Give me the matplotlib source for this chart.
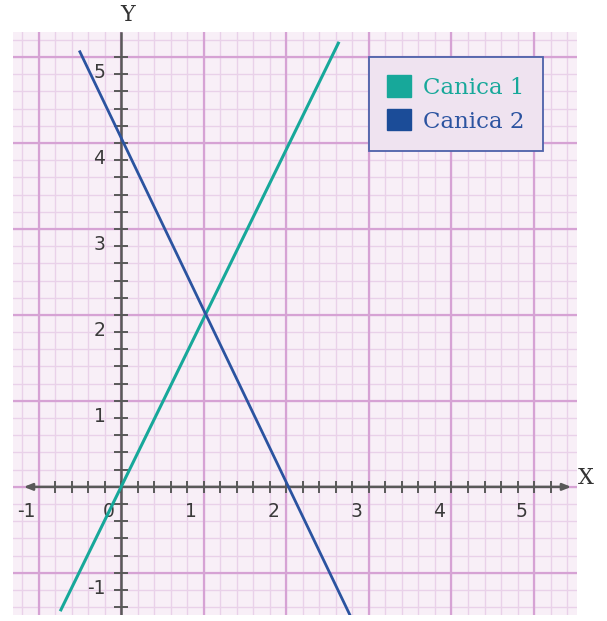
import numpy as np
import matplotlib
matplotlib.use("Agg")
import matplotlib.pyplot as plt
from matplotlib.patches import Patch

# datos
canica1_x = [-0.73, 2.63]
canica1_y = [-1.43, 5.16]
canica2_x = [-0.50, 2.77]
canica2_y = [5.06, -1.49]
series = ["Canica 1", "Canica 2"]
x_labels = [-1, 0, 1, 2, 3, 4, 5]
y_labels = [-1, 1, 2, 3, 4, 5]

C1 = "#17a89a"
C2 = "#2b53a0"
BG = "#f8eff7"
MAJOR = "#d6a2d4"
MINOR = "#e9d1e9"
AXIS = "#595959"

fig = plt.figure(figsize=(6.07, 6.21), dpi=100)
ax = fig.add_axes([13 / 607, 6 / 621, 564 / 607, 583 / 621])
ax.set_xlim(-1.31, 5.52)
ax.set_ylim(-1.49, 5.29)
ax.set_facecolor(BG)
for s in ax.spines.values():
    s.set_visible(False)
ax.set_xticks([])
ax.set_yticks([])

# cuadrícula
for v in np.arange(-1.2, 5.6, 0.2):
    ax.axvline(v, color=MINOR, lw=1.0, zorder=0)
for v in np.arange(-1.4, 5.4, 0.2):
    ax.axhline(v, color=MINOR, lw=1.0, zorder=0)
for v in range(-1, 6):
    ax.axvline(v, color=MAJOR, lw=1.6, zorder=0.5)
    ax.axhline(v, color=MAJOR, lw=1.6, zorder=0.5)

# ejes
ax.annotate("", xy=(5.45, 0), xytext=(-1.18, 0),
            arrowprops=dict(arrowstyle="<|-|>,head_length=0.5,head_width=0.2",
                            color=AXIS, lw=1.8, shrinkA=0, shrinkB=0), zorder=2)
ax.plot([0, 0], [-1.49, 5.28], color=AXIS, lw=1.8, zorder=2)
xt = np.arange(-0.8, 5.3, 0.2)
ax.plot(xt, np.zeros_like(xt), ls="none", marker="|", ms=8, mew=1.4, color=AXIS, zorder=2)
yt = np.arange(-1.4, 5.1, 0.2)
ax.plot(np.zeros_like(yt), yt, ls="none", marker="_", ms=10, mew=1.4, color=AXIS, zorder=2)

for v in x_labels:
    ax.text(v - 0.15, -0.29, str(v), ha="center", va="center", fontsize=13.5, color="#3a3a3a")
for v in y_labels:
    ax.text(-0.19, v - 0.18, str(v), ha="right", va="center", fontsize=13.5, color="#3a3a3a")
ax.text(5.63, 0.1, "X", ha="center", va="center", fontsize=16, family="DejaVu Serif",
        color="#333333", clip_on=False)
fig.text(128 / 607, 1 - 15 / 621, "Y", ha="center", va="center", fontsize=16,
         family="DejaVu Serif", color="#333333")

ax.plot(canica1_x, canica1_y, color=C1, lw=2.2, zorder=3)
ax.plot(canica2_x, canica2_y, color=C2, lw=2.0, zorder=3)

handles = [Patch(facecolor=C1, edgecolor=C1), Patch(facecolor="#1b4c98", edgecolor="#1b4c98")]
leg = ax.legend(handles, series, loc="upper left", bbox_to_anchor=(0.631, 0.957),
                borderaxespad=0, fancybox=False, framealpha=1, facecolor="#efe3f0",
                edgecolor="#4d62aa", handlelength=1.05, handleheight=1.05, handletextpad=0.5,
                labelspacing=0.45, borderpad=0.8, labelcolor=[C1, C2],
                prop=dict(family="DejaVu Serif", size=16.5))
leg.get_frame().set_linewidth(1.3)
leg.set_zorder(5)

fig.savefig("out.png", dpi=100, facecolor="white")
